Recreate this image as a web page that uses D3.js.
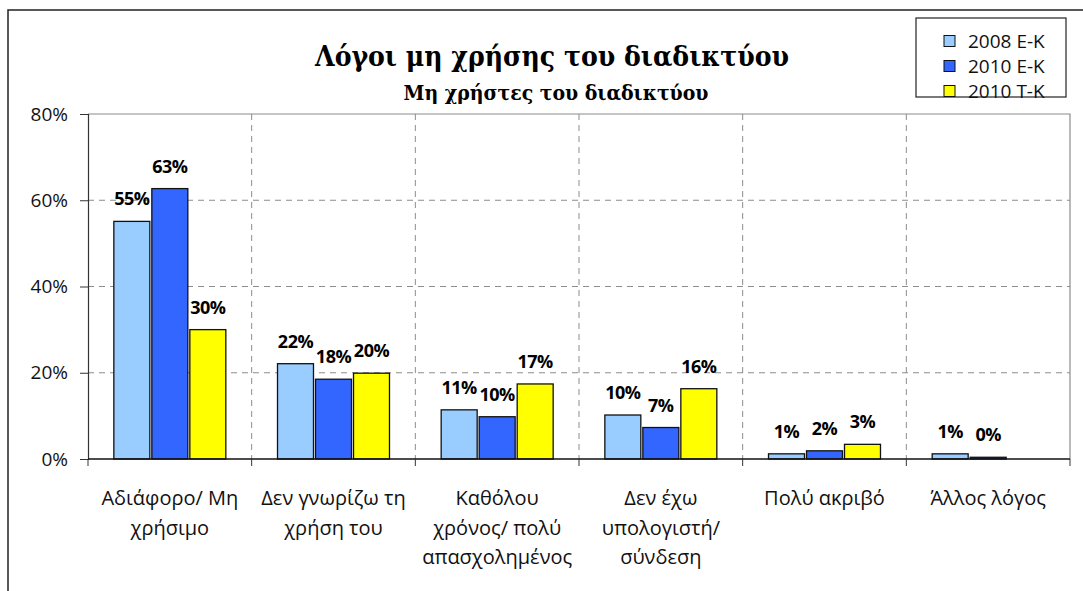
<!DOCTYPE html>
<html>
<head>
<meta charset="utf-8">
<title>Λόγοι μη χρήσης του διαδικτύου</title>
<script src="https://d3js.org/d3.v7.min.js"></script>
<style>
  body { margin: 0; background: #fff; }
  svg { display: block; }
</style>
</head>
<body>
<div id="chart"></div>
<script>
// data
const categories = [
  ["Αδιάφορο/ Μη", "χρήσιμο"],
  ["Δεν γνωρίζω τη", "χρήση του"],
  ["Καθόλου", "χρόνος/ πολύ", "απασχολημένος"],
  ["Δεν έχω", "υπολογιστή/", "σύνδεση"],
  ["Πολύ ακριβό"],
  ["Άλλος λόγος"]
];
const seriesNames = ["2008 Ε-Κ", "2010 Ε-Κ", "2010 Τ-Κ"];
const values2008EK = [55.1, 22.1, 11.4, 10.2, 1.2, 1.2];
const values2010EK = [62.7, 18.5, 9.8, 7.3, 1.9, 0.4];
const values2010TK = [30.0, 19.9, 17.4, 16.3, 3.4, null];
const labels2008EK = ["55%", "22%", "11%", "10%", "1%", "1%"];
const labels2010EK = ["63%", "18%", "10%", "7%", "2%", "0%"];
const labels2010TK = ["30%", "20%", "17%", "16%", "3%", null];
const yTicks = [0, 20, 40, 60, 80];

const colors = ["#99CCFF", "#3366FF", "#FFFF00"];
const allValues = [values2008EK, values2010EK, values2010TK];
const allLabels = [labels2008EK, labels2010EK, labels2010TK];

const W = 1083, H = 591;
const plot = { left: 88, right: 1070, top: 114, bottom: 459 };
const sans = "'Open Sans', 'Noto Sans', sans-serif";
const serif = "'DejaVu Serif Condensed', 'DejaVu Serif', serif";

const svg = d3.select("#chart").append("svg")
  .attr("width", W).attr("height", H);

// outer chart frame
svg.append("rect")
  .attr("x", 8).attr("y", 10)
  .attr("width", W + 20).attr("height", H + 20)
  .attr("fill", "#fff")
  .attr("stroke", "#222").attr("stroke-width", 1.5);

const x0 = d3.scaleBand()
  .domain(d3.range(categories.length))
  .range([plot.left, plot.right]);

const x1 = d3.scaleBand()
  .domain(d3.range(seriesNames.length))
  .range([0, x0.bandwidth()])
  .paddingInner(0.053)
  .paddingOuter(0.68);

const y = d3.scaleLinear().domain([0, 80]).range([plot.bottom, plot.top]);

// gridlines
svg.append("g").selectAll("line")
  .data(yTicks.filter(t => t > 0 && t < 80))
  .join("line")
  .attr("x1", plot.left).attr("x2", plot.right)
  .attr("y1", d => y(d)).attr("y2", d => y(d))
  .attr("stroke", "#8c8c8c").attr("stroke-width", 1)
  .attr("stroke-dasharray", "6,5");

svg.append("g").selectAll("line")
  .data(d3.range(1, categories.length))
  .join("line")
  .attr("x1", d => x0(d)).attr("x2", d => x0(d))
  .attr("y1", plot.top).attr("y2", plot.bottom)
  .attr("stroke", "#8c8c8c").attr("stroke-width", 1)
  .attr("stroke-dasharray", "6,5");

// plot area top/right border
svg.append("path")
  .attr("d", `M${plot.left},${plot.top}H${plot.right}V${plot.bottom}`)
  .attr("fill", "none").attr("stroke", "#8c8c8c").attr("stroke-width", 1.2);

// bars
const groups = svg.append("g").selectAll("g")
  .data(categories.map((c, i) => i))
  .join("g")
  .attr("transform", i => `translate(${x0(i)},0)`);

const cells = i => allValues.map((vals, s) => ({ s, v: vals[i], label: allLabels[s][i] })).filter(d => d.v != null);

groups.selectAll("rect")
  .data(cells)
  .join("rect")
  .attr("x", d => x1(d.s))
  .attr("width", x1.bandwidth())
  .attr("y", d => y(d.v))
  .attr("height", d => y(0) - y(d.v))
  .attr("fill", d => colors[d.s])
  .attr("stroke", "#111").attr("stroke-width", 1.3);

groups.selectAll("text")
  .data(cells)
  .join("text")
  .attr("x", d => x1(d.s) + x1.bandwidth() / 2)
  .attr("y", d => y(d.v) - 16)
  .attr("text-anchor", "middle")
  .style("font-family", sans)
  .style("font-weight", "bold")
  .style("font-size", "18px")
  .style("letter-spacing", "-0.5px")
  .attr("fill", "#000")
  .text(d => d.label);

// y axis
const yAxis = svg.append("g")
  .attr("transform", `translate(${plot.left},0)`)
  .call(d3.axisLeft(y).tickValues(yTicks).tickFormat(d => d + "%").tickSize(8).tickPadding(12));
yAxis.select(".domain").attr("stroke", "#333").attr("stroke-width", 1.2);
yAxis.selectAll(".tick line").attr("stroke", "#333");
yAxis.selectAll("text")
  .style("font-family", sans).style("font-size", "19px").attr("fill", "#111");

// x axis
svg.append("line")
  .attr("x1", plot.left).attr("x2", plot.right)
  .attr("y1", plot.bottom).attr("y2", plot.bottom)
  .attr("stroke", "#111").attr("stroke-width", 1.3);
svg.append("g").selectAll("line")
  .data(d3.range(0, categories.length + 1))
  .join("line")
  .attr("x1", d => d < categories.length ? x0(d) : plot.right)
  .attr("x2", d => d < categories.length ? x0(d) : plot.right)
  .attr("y1", plot.bottom).attr("y2", plot.bottom + 7)
  .attr("stroke", "#333");

const xLabels = svg.append("g").selectAll("text")
  .data(categories)
  .join("text")
  .attr("text-anchor", "middle")
  .attr("transform", (d, i) => `translate(${x0(i) + x0.bandwidth() / 2},0)`)
  .style("font-family", sans).style("font-size", "20px").attr("fill", "#111");
xLabels.selectAll("tspan")
  .data(d => d)
  .join("tspan")
  .attr("x", 0)
  .attr("y", (d, j) => 505 + j * 29.5)
  .text(d => d);

// titles
svg.append("text")
  .attr("x", 552).attr("y", 66)
  .attr("text-anchor", "middle")
  .style("font-family", serif).style("font-weight", "bold").style("font-size", "28px")
  .text("Λόγοι μη χρήσης του διαδικτύου");
svg.append("text")
  .attr("x", 556).attr("y", 100)
  .attr("text-anchor", "middle")
  .style("font-family", serif).style("font-weight", "bold").style("font-size", "21px")
  .text("Μη χρήστες του διαδικτύου");

// legend
const legend = svg.append("g");
legend.append("rect")
  .attr("x", 916).attr("y", 18).attr("width", 150).attr("height", 79)
  .attr("fill", "#fff").attr("stroke", "#222").attr("stroke-width", 1.2);
const items = legend.selectAll("g.item")
  .data(seriesNames)
  .join("g").attr("class", "item")
  .attr("transform", (d, i) => `translate(944,${41 + i * 25})`);
items.append("rect")
  .attr("x", 0).attr("y", -5.5).attr("width", 11).attr("height", 11)
  .attr("fill", (d, i) => colors[i]).attr("stroke", "#111").attr("stroke-width", 1);
items.append("text")
  .attr("x", 24).attr("y", 7)
  .style("font-family", sans).style("font-size", "19px").attr("fill", "#111")
  .text(d => d);
</script>
</body>
</html>
